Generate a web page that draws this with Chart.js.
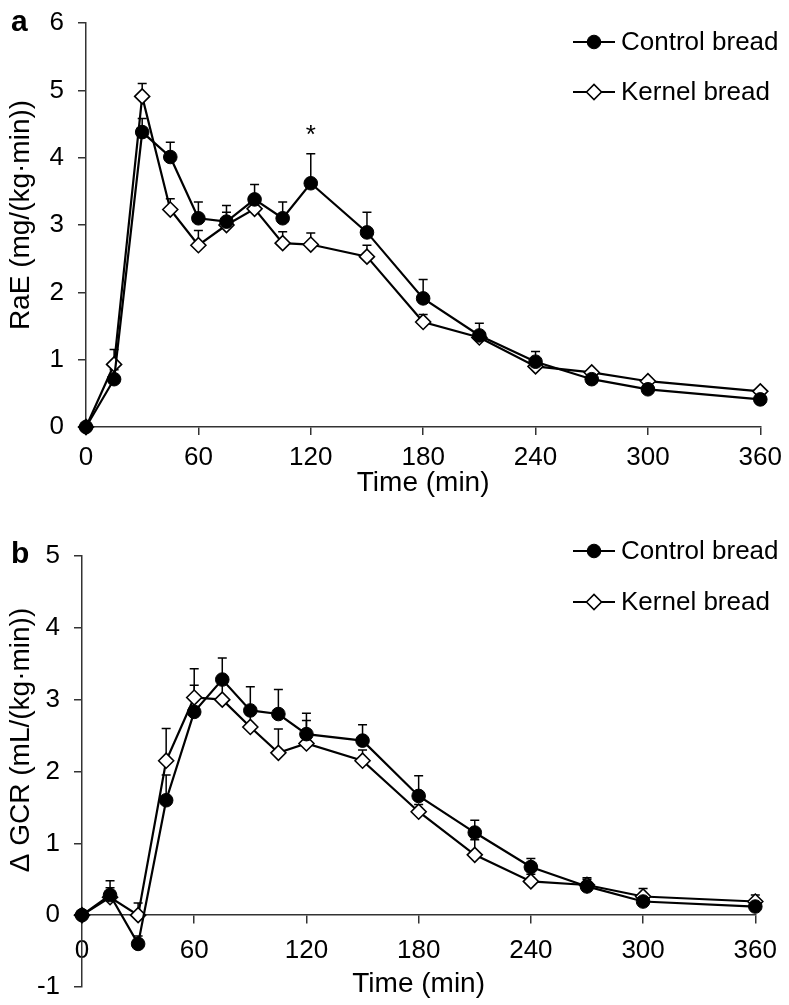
<!DOCTYPE html>
<html>
<head>
<meta charset="utf-8">
<script src="https://cdn.jsdelivr.net/npm/chart.js@4/dist/chart.umd.min.js"></script>
<style>
    html, body { margin: 0; padding: 0; background: #fff; }
    .panel { position: relative; width: 789px; }
    #panel-a { height: 500px; }
    #panel-b { height: 505px; }
</style>
</head>
<body>
<div class="panel" id="panel-a"><canvas id="rae-chart"></canvas></div>
<div class="panel" id="panel-b"><canvas id="gcr-chart"></canvas></div>
<script>
// sampling times (min)
const timePoints = [0, 15, 30, 45, 60, 75, 90, 105, 120, 150, 180, 210, 240, 270, 300, 360];
const timeTicks = [0, 60, 120, 180, 240, 300, 360];

// panel a: rate of appearance of exogenous glucose, mean and upper SEM
const raeControl = [0, 0.71, 4.38, 4.01, 3.10, 3.05, 3.38, 3.10, 3.62, 2.89, 1.91, 1.36, 0.97, 0.71, 0.56, 0.41];
const raeControlSem = [0, 0.14, 0.20, 0.22, 0.24, 0.24, 0.22, 0.24, 0.44, 0.30, 0.28, 0.18, 0.15, 0.05, 0.05, 0.04];
const raeKernel = [0, 0.93, 4.91, 3.23, 2.70, 3.00, 3.24, 2.73, 2.71, 2.53, 1.56, 1.33, 0.90, 0.81, 0.68, 0.53];
const raeKernelSem = [0, 0.22, 0.19, 0.16, 0.22, 0.19, 0.16, 0.17, 0.17, 0.17, 0.11, 0.08, 0.07, 0.04, 0.04, 0.04];
const raeStarTimes = [120];

// panel b: change in glucose clearance rate
const gcrControl = [0, 0.28, -0.40, 1.60, 2.83, 3.28, 2.85, 2.80, 2.52, 2.43, 1.66, 1.15, 0.67, 0.40, 0.19, 0.12];
const gcrControlSem = [0, 0.10, 0.11, 0.35, 0.37, 0.30, 0.33, 0.34, 0.29, 0.22, 0.28, 0.17, 0.12, 0.10, 0.05, 0.05];
const gcrKernel = [0, 0.25, 0.00, 2.15, 3.03, 3.00, 2.62, 2.26, 2.39, 2.15, 1.44, 0.84, 0.47, 0.42, 0.26, 0.19];
const gcrKernelSem = [0, 0.23, 0.17, 0.45, 0.40, 0.30, 0.23, 0.33, 0.32, 0.15, 0.10, 0.21, 0.10, 0.10, 0.11, 0.09];

const FONT = 'Liberation Sans, Arial, sans-serif';

function toPoints(values) {
    return timePoints.map((t, i) => ({ x: t, y: values[i] }));
}

function makeDatasets(control, controlSem, kernel, kernelSem) {
    return [
        {
            label: 'Control bread',
            data: toPoints(control),
            sem: controlSem,
            borderColor: '#000',
            borderWidth: 2.2,
            pointStyle: 'circle',
            pointRadius: 6.8,
            pointBackgroundColor: '#000',
            pointBorderColor: '#000',
            pointBorderWidth: 1,
            tension: 0,
            clip: false
        },
        {
            label: 'Kernel bread',
            data: toPoints(kernel),
            sem: kernelSem,
            borderColor: '#000',
            borderWidth: 2.2,
            pointStyle: 'rectRot',
            pointRadius: 7.5,
            pointBackgroundColor: '#fff',
            pointBorderColor: '#000',
            pointBorderWidth: 1.6,
            tension: 0,
            clip: false
        }
    ];
}

// upper error bars, drawn under the markers
const errorBarPlugin = {
    id: 'errorBars',
    beforeDatasetsDraw(chart) {
        const ctx = chart.ctx;
        const xs = chart.scales.x, ys = chart.scales.y;
        ctx.save();
        ctx.strokeStyle = '#000';
        ctx.lineWidth = 1.5;
        chart.data.datasets.forEach(ds => {
            ds.data.forEach((p, i) => {
                const e = ds.sem[i];
                if (!e) return;
                const px = xs.getPixelForValue(p.x);
                const y0 = ys.getPixelForValue(p.y);
                const y1 = ys.getPixelForValue(p.y + e);
                ctx.beginPath();
                ctx.moveTo(px, y0);
                ctx.lineTo(px, y1);
                ctx.moveTo(px - 4.5, y1);
                ctx.lineTo(px + 4.5, y1);
                ctx.stroke();
            });
        });
        ctx.restore();
    }
};

// legend with line + marker, y title, panel letter and significance stars
const decorPlugin = {
    id: 'decor',
    afterDraw(chart, args, opts) {
        const ctx = chart.ctx;
        ctx.save();
        // panel letter
        ctx.fillStyle = '#000';
        ctx.font = 'bold 30px ' + FONT;
        ctx.textAlign = 'left';
        ctx.textBaseline = 'middle';
        ctx.fillText(opts.letter, 11, opts.letterY);

        // rotated y title (sits a little above the middle of the axis)
        ctx.save();
        ctx.translate(opts.titleX, opts.titleY);
        ctx.rotate(-Math.PI / 2);
        ctx.font = '28px ' + FONT;
        ctx.textAlign = 'center';
        ctx.fillText(opts.yTitle, 0, 0);
        ctx.restore();

        // legend
        chart.data.datasets.forEach((ds, i) => {
            const y = opts.legendY + i * opts.legendGap;
            ctx.strokeStyle = '#000';
            ctx.lineWidth = 2.2;
            ctx.beginPath();
            ctx.moveTo(opts.legendX, y);
            ctx.lineTo(opts.legendX + 42, y);
            ctx.stroke();
            ctx.fillStyle = ds.pointBackgroundColor;
            ctx.strokeStyle = ds.pointBorderColor;
            ctx.lineWidth = ds.pointBorderWidth;
            Chart.helpers.drawPoint(ctx, {
                pointStyle: ds.pointStyle,
                radius: ds.pointRadius,
                rotation: 0,
                borderWidth: ds.pointBorderWidth
            }, opts.legendX + 21, y);
            ctx.fillStyle = '#000';
            ctx.font = '26px ' + FONT;
            ctx.textAlign = 'left';
            ctx.textBaseline = 'middle';
            ctx.fillText(ds.label, opts.legendX + 48, y + 1);
        });

        // asterisks above the control error bar
        const stars = opts.stars || [];
        const ds = chart.data.datasets[0];
        stars.forEach(t => {
            const i = timePoints.indexOf(t);
            const px = chart.scales.x.getPixelForValue(t);
            const py = chart.scales.y.getPixelForValue(ds.data[i].y + ds.sem[i]);
            ctx.font = '26px ' + FONT;
            ctx.textAlign = 'center';
            ctx.textBaseline = 'middle';
            ctx.fillText('*', px, py - 18);
        });
        ctx.restore();
    }
};

function makeOptions(cfg) {
    const tickFont = { family: FONT, size: 26 };
    return {
        responsive: true,
        maintainAspectRatio: false,
        animation: false,
        layout: { padding: cfg.padding },
        scales: {
            x: {
                type: 'linear',
                min: 0,
                max: 360,
                position: cfg.xPosition,
                afterBuildTicks(axis) {
                    axis.ticks = timeTicks.map(v => ({ value: v }));
                },
                afterFit(axis) {
                    axis.height = cfg.xHeight;
                },
                ticks: { color: '#000', font: tickFont, padding: cfg.xTickPadding, maxRotation: 0, autoSkip: false },
                grid: { drawOnChartArea: false, drawTicks: true, tickLength: 8, color: '#333', lineWidth: 1.5 },
                border: { display: true, color: '#333', width: 1.5 },
                title: {
                    display: true,
                    text: 'Time (min)',
                    color: '#000',
                    font: { family: FONT, size: 28 },
                    padding: { top: 0, bottom: cfg.xTitlePadding }
                }
            },
            y: {
                min: cfg.yMin,
                max: cfg.yMax,
                afterFit(axis) {
                    axis.width = cfg.yWidth;
                    // let layout.padding alone decide the top/bottom of the plot
                    axis.paddingTop = 0;
                    axis.paddingBottom = 0;
                },
                ticks: { stepSize: 1, color: '#000', font: tickFont, padding: 14 },
                grid: { drawOnChartArea: false, drawTicks: true, tickLength: 8, color: '#333', lineWidth: 1.5 },
                border: { display: true, color: '#333', width: 1.5 }
            }
        },
        plugins: {
            legend: { display: false },
            tooltip: { enabled: false },
            decor: cfg.decor
        }
    };
}

new Chart(document.getElementById('rae-chart'), {
    type: 'line',
    data: { datasets: makeDatasets(raeControl, raeControlSem, raeKernel, raeKernelSem) },
    options: makeOptions({
        padding: { top: 23, right: 28, left: 0, bottom: 0 },
        xPosition: 'bottom',
        xHeight: 73,
        xTickPadding: 7,
        xTitlePadding: 0,
        yMin: 0, yMax: 6,
        yWidth: 86,
        decor: {
            letter: 'a', letterY: 23,
            yTitle: 'RaE (mg/(kg\u00b7min))', titleX: 21, titleY: 215,
            legendX: 573, legendY: 42, legendGap: 50, stars: raeStarTimes
        }
    }),
    plugins: [errorBarPlugin, decorPlugin]
});

new Chart(document.getElementById('gcr-chart'), {
    type: 'line',
    data: { datasets: makeDatasets(gcrControl, gcrControlSem, gcrKernel, gcrKernelSem) },
    options: makeOptions({
        padding: { top: 56, right: 26, left: 0, bottom: 18 },
        xPosition: { y: 0 },
        xHeight: 86,
        xTickPadding: 12,
        xTitlePadding: 0,
        yMin: -1, yMax: 5,
        yWidth: 82,
        decor: {
            letter: 'b', letterY: 55,
            yTitle: '\u0394 GCR (mL/(kg\u00b7min))', titleX: 21, titleY: 240,
            legendX: 573, legendY: 51, legendGap: 51, stars: []
        }
    }),
    plugins: [errorBarPlugin, decorPlugin]
});
</script>
</body>
</html>
